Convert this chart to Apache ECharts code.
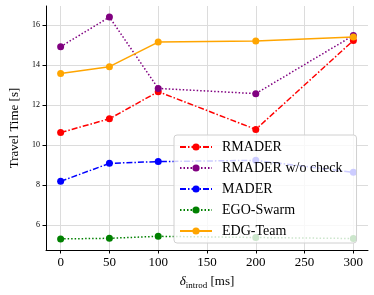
<!DOCTYPE html>
<html><head><meta charset="utf-8">
<script src="https://cdn.jsdelivr.net/npm/echarts@6/dist/echarts.min.js"></script>
<style>html,body{margin:0;padding:0;background:#fff}#c{width:374px;height:295px}</style>
</head><body><div id="c"></div>
<script>
const delays = [0, 50, 100, 200, 300];
const xTicks = [0, 50, 100, 150, 200, 250, 300];
const yTicks = [6, 8, 10, 12, 14, 16];
const rmader = [10.62, 11.31, 12.67, 10.78, 15.23];
const rmaderNoCheck = [14.92, 16.40, 12.83, 12.57, 15.48];
const mader = [8.18, 9.08, 9.17, 9.23, 8.63];
const egoSwarm = [5.30, 5.33, 5.43, 5.37, 5.32];
const edgeTeam = [13.58, 13.92, 15.15, 15.20, 15.40];

const font = 'Liberation Serif';
function mk(name, data, color, type) {
  return {
    name, type: 'line', data: delays.map((d, i) => [d, data[i]]),
    symbol: 'circle', symbolSize: 7, showSymbol: true,
    lineStyle: { color, width: 1.5, type },
    itemStyle: { color },
    emphasis: { disabled: true }, animation: false
  };
}
const chart = echarts.init(document.getElementById('c'), null, { renderer: 'canvas' });
chart.setOption({
  animation: false,
  grid: { left: 40, right: 6, top: 6, bottom: 45, containLabel: false },
  xAxis: {
    type: 'value', min: -15, max: 315,
    name: '{d|δ}{s|introd}{n| [ms]}', nameLocation: 'middle', nameGap: 24,
    nameTextStyle: { rich: {
      d: { fontFamily: font, fontSize: 13, color: '#000', fontStyle: 'italic' },
      n: { fontFamily: font, fontSize: 13, color: '#000' },
      s: { fontFamily: font, fontSize: 9, color: '#000', padding: [7, 0, 0, 0] }
    } },
    axisLine: { show: true, onZero: false, lineStyle: { color: '#000', width: 1 } },
    axisTick: { show: true, length: 3.5, customValues: xTicks, lineStyle: { color: '#000' } },
    axisLabel: { customValues: xTicks, fontFamily: font, fontSize: 13, color: '#000', margin: 6 },
    splitLine: { show: true, lineStyle: { color: '#dcdcdc', width: 1 } }
  },
  yAxis: {
    type: 'value', min: 4.745, max: 16.955,
    name: 'Travel Time [s]', nameLocation: 'middle', nameGap: 25,
    nameTextStyle: { fontFamily: font, fontSize: 13, color: '#000' },
    axisLine: { show: true, onZero: false, lineStyle: { color: '#000', width: 1 } },
    axisTick: { show: true, length: 3.5, customValues: yTicks, lineStyle: { color: '#000' } },
    axisLabel: { customValues: yTicks, fontFamily: font, fontSize: 8, color: '#000', margin: 6 },
    splitLine: { show: true, lineStyle: { color: '#dcdcdc', width: 1 } }
  },
  legend: {
    orient: 'vertical', left: 174, top: 135,
    backgroundColor: 'rgba(255,255,255,0.8)', borderColor: '#d0d0d0', borderWidth: 1, borderRadius: 3,
    padding: [5, 14, 5, 5], itemGap: 7, itemWidth: 32, itemHeight: 9,
    textStyle: { fontFamily: font, fontSize: 14, color: '#000', padding: [0, 0, 0, 5] },
    data: ['RMADER', 'RMADER w/o check', 'MADER', 'EGO-Swarm', 'EDG-Team']
  },
  series: [
    mk('RMADER', rmader, '#ff0000', [6, 2, 1.5, 2]),
    mk('RMADER w/o check', rmaderNoCheck, '#800080', [1.5, 2]),
    mk('MADER', mader, '#0000ff', [6, 2, 1.5, 2]),
    mk('EGO-Swarm', egoSwarm, '#008000', [1.5, 2]),
    mk('EDG-Team', edgeTeam, '#ffa500', 'solid')
  ]
});
</script></body></html>
